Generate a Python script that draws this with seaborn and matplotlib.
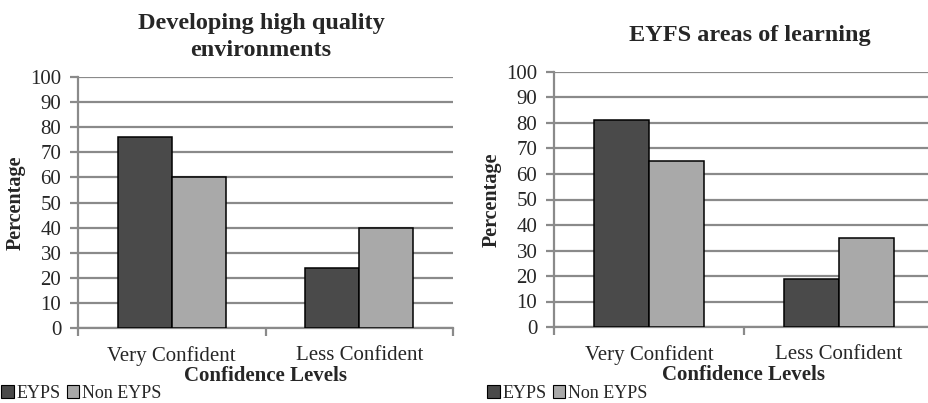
import matplotlib
matplotlib.use("Agg")
import matplotlib.pyplot as plt
import seaborn as sns
import pandas as pd
from matplotlib.patches import Patch

# Survey results: share of practitioners by confidence level
categories = ["Very Confident", "Less Confident"]
groups = ["EYPS", "Non EYPS"]
env_eyps = [76, 24]
env_non_eyps = [60, 40]
eyfs_eyps = [81, 19]
eyfs_non_eyps = [65, 35]
y_ticks = list(range(0, 101, 10))

titles = ["Developing high quality\nenvironments", "EYFS areas of learning"]
x_label = "Confidence Levels"
y_label = "Percentage"

dark = "#4a4a4a"
light = "#a9a9a9"
grid_grey = "#8a8a8a"

sns.set_style("white")
plt.rcParams["font.family"] = ["Liberation Serif", "DejaVu Serif"]


def frame(eyps, non_eyps):
    return pd.DataFrame({
        "level": categories * 2,
        "pct": list(eyps) + list(non_eyps),
        "group": [groups[0]] * len(categories) + [groups[1]] * len(categories),
    })


W, H = 929, 403
fig = plt.figure(figsize=(W / 100, H / 100), dpi=100)
fig.patch.set_facecolor("white")

# axes rectangles in pixels: left, top, right, bottom
boxes = [(78, 77, 453, 328), (554, 72, 934, 327)]
datasets = [(env_eyps, env_non_eyps), (eyfs_eyps, eyfs_non_eyps)]
title_top = [0.968, 0.938]
title_x = [261, 750]
legend_x = [1, 487]

for i, ((l, t, r, b), (e, n)) in enumerate(zip(boxes, datasets)):
    ax = fig.add_axes([l / W, (H - b) / H, (r - l) / W, (b - t) / H])
    sns.barplot(data=frame(e, n), x="level", y="pct", hue="group",
                order=categories, hue_order=groups,
                palette=[dark, light], width=0.576, edgecolor="black",
                linewidth=1.1, saturation=1, legend=False, ax=ax, zorder=3)
    ax.set_xlim(-0.5, 1.5)
    ax.set_ylim(0, 100)
    ax.set_yticks(y_ticks)
    ax.set_axisbelow(True)
    ax.yaxis.grid(True, color=grid_grey, lw=1.6)
    for s in ["top", "right"]:
        ax.spines[s].set_visible(False)
    for s in ["left", "bottom"]:
        ax.spines[s].set_color(grid_grey)
        ax.spines[s].set_linewidth(1.6)
    ax.tick_params(axis="y", length=6, width=1.6, color=grid_grey,
                   labelsize=15, pad=6, left=True)
    ax.tick_params(axis="x", which="major", length=0, labelsize=15, pad=13)
    ax.set_xticks([-0.5, 0.5, 1.5], minor=True)
    ax.tick_params(axis="x", which="minor", length=6, width=1.6,
                   color=grid_grey, bottom=True)
    ax.set_xlabel(x_label, fontsize=15, fontweight="bold", labelpad=0)
    ax.set_ylabel(y_label, fontsize=14.5, fontweight="bold", labelpad=3)

    fig.text(title_x[i] / W, title_top[i], titles[i], ha="center", va="top",
             fontsize=17.5, fontweight="bold", linespacing=1.4)

    handles = [Patch(facecolor=dark, edgecolor="black", lw=0.8),
               Patch(facecolor=light, edgecolor="black", lw=0.8)]
    fig.legend(handles, groups, loc="lower left",
               bbox_to_anchor=(legend_x[i] / W, 1 / H), ncol=2,
               frameon=False, fontsize=13, handlelength=0.7,
               handleheight=0.7, handletextpad=0.15, columnspacing=0.35,
               borderpad=0, borderaxespad=0)

fig.savefig("out.png", dpi=100, facecolor="white")
